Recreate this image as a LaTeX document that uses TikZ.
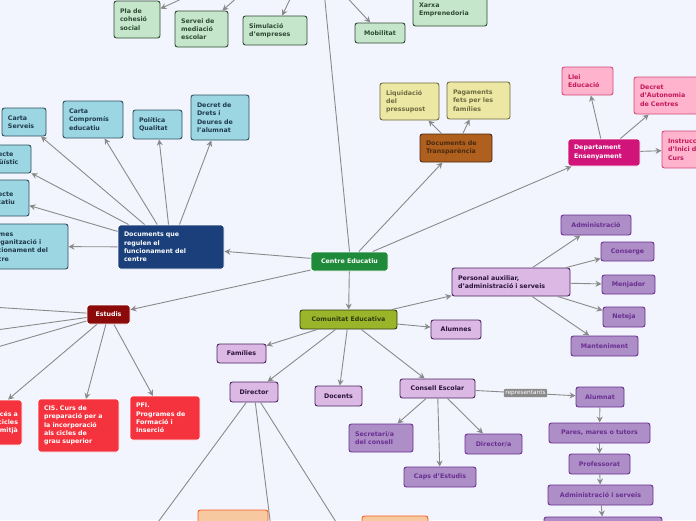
\documentclass[tikz,border=0pt]{standalone}
\usepackage{fontspec}
\setmainfont{DejaVu Sans}
\usetikzlibrary{arrows.meta}
\hyphenpenalty=10000 \exhyphenpenalty=10000
\definecolor{bg}{HTML}{F2F5FD}
\definecolor{ln}{HTML}{8A8A8A}
\definecolor{cyF}{HTML}{9DD6E3}\definecolor{cyD}{HTML}{2E4E5E}\definecolor{cyT}{HTML}{1E3A4A}
\definecolor{grF}{HTML}{C6E6CC}\definecolor{grD}{HTML}{2F4A34}
\definecolor{pkF}{HTML}{FFB3CC}\definecolor{pkD}{HTML}{D6487C}\definecolor{pkT}{HTML}{C2185A}
\definecolor{yeF}{HTML}{ECE8A4}\definecolor{yeD}{HTML}{6E6A40}
\definecolor{lpF}{HTML}{DCB8E4}\definecolor{lpD}{HTML}{4A2560}\definecolor{lpT}{HTML}{2A1438}
\definecolor{dpF}{HTML}{AD8EC6}\definecolor{dpD}{HTML}{6A2F92}
\definecolor{rdF}{HTML}{F5333F}
\definecolor{orF}{HTML}{F7C9A0}\definecolor{orD}{HTML}{FF5A1F}
\definecolor{ceF}{HTML}{1E8A3A}\definecolor{dbF}{HTML}{1A3F7A}\definecolor{esF}{HTML}{8B0A0A}
\definecolor{brF}{HTML}{B0601E}\definecolor{brD}{HTML}{4A2A10}\definecolor{deF}{HTML}{D0147A}
\definecolor{olF}{HTML}{9AB52A}\definecolor{olD}{HTML}{2E3A10}
\tikzset{
 bx/.style={rounded corners=2.5pt,line width=0.9pt,font=\fontsize{6.3}{8.3}\selectfont\bfseries,inner sep=0pt},
 cyanb/.style={bx,fill=cyF,draw=cyD,text=cyT},
 greenb/.style={bx,fill=grF,draw=grD,text=grD},
 pinkb/.style={bx,fill=pkF,draw=pkD,text=pkT},
 yelb/.style={bx,fill=yeF,draw=yeD,text=yeD},
 lpur/.style={bx,fill=lpF,draw=lpD,text=lpT},
 dpur/.style={bx,fill=dpF,draw=dpD,text=dpD},
 redb/.style={bx,fill=rdF,draw=white,text=white},
 orab/.style={bx,fill=orF,draw=orD,text=orD},
 ar/.style={draw=ln,line width=0.9pt,-{Stealth[length=6pt,width=6pt]}},
 pl/.style={draw=ln,line width=0.9pt},
}
% name, style, x1, y1, x2, y2, text  (left aligned)
\newcommand\BL[7]{\node[#2,minimum width={(#5-#3)*1pt},minimum height={(#6-#4)*1pt},text width={(#5-#3-12)*1pt},align=left] (#1) at ({(#3+#5)/2},{(#4+#6)/2}) {#7};}
\newcommand\BC[7]{\node[#2,minimum width={(#5-#3)*1pt},minimum height={(#6-#4)*1pt},align=center] (#1) at ({(#3+#5)/2},{(#4+#6)/2}) {#7};}
\begin{document}
\begin{tikzpicture}[x=1pt,y=-1pt]
\useasboundingbox (0,0) rectangle (696,520);
\fill[bg] (0,0) rectangle (696,520);
\clip (0,0) rectangle (696,520);
% offscreen anchors
\coordinate (top) at (321,-40);
\coordinate (e1) at (-40,305); \coordinate (e2) at (-40,335); \coordinate (e3) at (-40,358);
\coordinate (d1) at (130,560); \coordinate (d2) at (275,560); \coordinate (d3) at (360,560);
\coordinate (g1) at (190,-5); \coordinate (g2) at (240,-5); \coordinate (g3) at (292,-5); \coordinate (g4) at (340,-10);
\coordinate (c1) at (86,399); \coordinate (c2) at (153,396);
% central
\BC{ce}{bx,fill=ceF,draw=white,text=white}{311}{252}{388}{271}{Centre Educatiu}
% documents
\BL{doc}{bx,fill=dbF,draw=white,text=white}{118}{225}{224}{269}{Documents que\\ regulen el\\ funcionament del\\ centre}
\BL{cs}{cyanb}{2}{108}{46}{136}{Carta\\ Serveis}
\BL{cc}{cyanb}{63}{101}{123}{138}{Carta\\ Compromís\\ educatiu}
\BL{pq}{cyanb}{133}{110}{182}{139}{Política\\ Qualitat}
\BL{dd}{cyanb}{191}{95}{249}{140}{Decret de\\ Drets i\\ Deures de\\ l'alumnat}
\BL{plg}{cyanb}{-22}{145}{31}{173}{Projecte\\ Lingüístic}
\BL{ped}{cyanb}{-22}{180}{29}{216}{Projecte\\ Educatiu}
\BL{nof}{cyanb}{-20}{224}{68}{269}{Normes\\ d'organització i\\ funcionament del\\ centre}
% green top
\BL{pla}{greenb}{114}{1}{160}{38}{Pla de\\ cohesió\\ social}
\BL{smed}{greenb}{175}{11}{228}{47}{Servei de\\ mediació\\ escolar}
\BL{sim}{greenb}{243}{16}{307}{45}{Simulació\\ d'empreses}
\BC{mob}{greenb}{355}{23}{405}{43}{Mobilitat}
\BL{xe}{greenb}{413}{-6}{487}{26}{Xarxa\\ Emprenedoria}
% estudis
\BC{est}{bx,fill=esF,draw=white,text=white}{87}{305}{130}{324}{Estudis}
\node[redb,minimum width=82pt,minimum height=45pt,text width=74pt,align=right] (cfgm) at (-19,422.5) {Curs d'accés a\\ cicles\\ de grau mitjà};
\BL{cis}{redb}{38}{399}{119}{452}{CIS. Curs de\\ preparació per a\\ la incorporació\\ als cicles de\\ grau superior}
\BL{pfi}{redb}{130}{396}{200}{440}{PFI.\\ Programes de\\ Formació i\\ Inserció}
% transparencia
\BL{tra}{bx,fill=brF,draw=brD,text=brD}{420}{134}{492}{162}{Documents de\\ Transparència}
\BL{liq}{yelb}{380}{83}{439}{120}{Liquidació\\ del\\ pressupost}
\BL{pag}{yelb}{447}{82}{510}{119}{Pagaments\\ fets per les\\ famílies}
% departament
\BL{dep}{bx,fill=deF,draw=white,text=white}{568}{139}{640}{166}{Departament\\ Ensenyament}
\BL{llei}{pinkb}{562}{67}{613}{95}{Llei\\ Educació}
\BL{dauto}{pinkb}{634}{77}{708}{114}{Decret\\ d'Autonomia\\ de Centres}
\BL{inst}{pinkb}{662}{131}{740}{168}{Instruccions\\ d'Inici de\\ Curs}
% comunitat
\BC{com}{bx,fill=olF,draw=olD,text=olD}{300}{310}{397}{329}{Comunitat Educativa}
\BL{pers}{lpur}{452}{268}{570}{296}{Personal auxiliar,\\ d'administració i serveis}
\BC{adm}{dpur}{561}{215}{631}{235}{Administració}
\BC{cons}{dpur}{601}{242}{654}{261}{Conserge}
\BC{menj}{dpur}{602}{275}{655}{294}{Menjador}
\BC{net}{dpur}{603}{307}{645}{327}{Neteja}
\BC{mant}{dpur}{571}{336}{638}{356}{Manteniment}
\BC{alu}{lpur}{431}{320}{481}{339}{Alumnes}
\BC{fam}{lpur}{217}{344}{266}{363}{Famílies}
\BC{dir}{lpur}{230}{382}{278}{402}{Director}
\BC{doce}{lpur}{315}{386}{362}{406}{Docents}
\BC{cesc}{lpur}{400}{379}{475}{398}{Consell Escolar}
\BL{sec}{dpur}{349}{424}{413}{452}{Secretari/a\\ del consell}
\BC{dira}{dpur}{465}{434}{522}{454}{Director/a}
\BC{caps}{dpur}{404}{467}{476}{487}{Caps d'Estudis}
\BC{alt}{dpur}{576}{387}{624}{407}{Alumnat}
\BC{pares}{dpur}{549}{423}{650}{443}{Pares, mares o tutors}
\BC{prof}{dpur}{569}{454}{630}{474}{Professorat}
\BC{ads}{dpur}{548}{485}{653}{505}{Administració i serveis}
\BC{last}{dpur}{544}{517}{662}{537}{}
\BL{form}{orab}{198}{510}{268}{545}{Formació}
\BL{or2}{orab}{362}{516}{428}{545}{}
% connectors
\draw[pl] (ce.north) -- (top);
\draw[ar] (ce) -- (doc);
\draw[ar] (ce) -- (est);
\draw[ar] (ce) -- (tra);
\draw[ar] (ce) -- (dep);
\draw[ar] (ce) -- (com);
\draw[ar] (doc) -- (cs); \draw[ar] (doc) -- (cc); \draw[ar] (doc) -- (pq); \draw[ar] (doc) -- (dd);
\draw[ar] (doc) -- (plg); \draw[ar] (doc) -- (ped); \draw[ar] (doc) -- (nof);
\draw[ar] (g1) -- (pla); \draw[ar] (g2) -- (smed); \draw[ar] (g3) -- (sim); \draw[ar] (g4) -- (mob);
\draw[pl] (est) -- (e1); \draw[pl] (est) -- (e2); \draw[pl] (est) -- (e3);
\draw[ar] (est) -- (cfgm); \draw[ar] (est) -- (c1); \draw[ar] (est) -- (c2);
\draw[ar] (tra) -- (liq); \draw[ar] (tra) -- (pag);
\draw[ar] (dep) -- (llei); \draw[ar] (dep) -- (dauto); \draw[ar] (dep) -- (inst);
\draw[ar] (com) -- (pers); \draw[ar] (com) -- (alu); \draw[ar] (com) -- (fam); \draw[ar] (com) -- (dir);
\draw[ar] (com) -- (doce); \draw[ar] (com) -- (cesc);
\draw[ar] (pers) -- (adm); \draw[ar] (pers) -- (cons); \draw[ar] (pers) -- (menj); \draw[ar] (pers) -- (net); \draw[ar] (pers) -- (mant);
\draw[ar] (cesc) -- (sec); \draw[ar] (cesc) -- (dira); \draw[ar] (cesc) -- (caps);
\draw[ar] (cesc) -- node[fill=ln,text=white,font=\fontsize{5.8}{6}\selectfont,inner sep=1.5pt,rounded corners=1pt]{representants} (alt);
\draw[ar] (alt) -- (pares); \draw[ar] (pares) -- (prof); \draw[ar] (prof) -- (ads); \draw[ar] (ads) -- (last);
\draw[pl] (dir) -- (d1); \draw[pl] (dir) -- (d2); \draw[pl] (dir) -- (d3);
\end{tikzpicture}
\end{document}
